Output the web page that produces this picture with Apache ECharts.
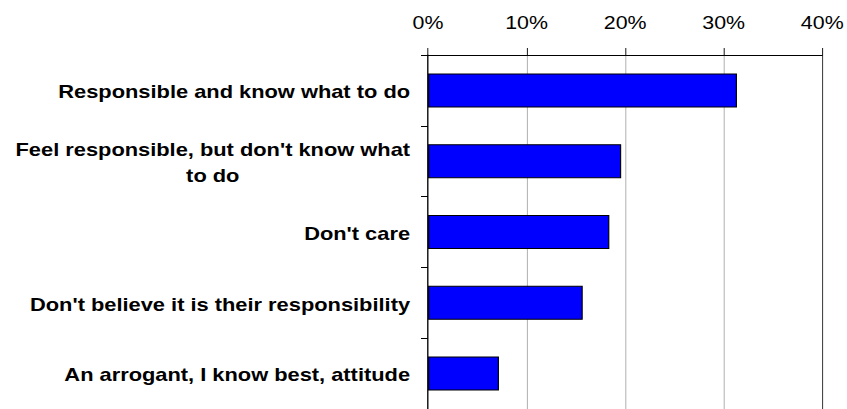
<!DOCTYPE html>
<html>
<head>
<meta charset="utf-8">
<script src="https://cdn.jsdelivr.net/npm/echarts@6/dist/echarts.min.js"></script>
<style>
html,body{margin:0;padding:0;background:#fff;overflow:hidden;}
#chart{width:705.8px;height:409px;transform:scaleX(1.2);transform-origin:0 0;}
</style>
</head>
<body>
<div id="chart"></div>
<script>
const categories = [
  "Responsible and know what to do",
  "Feel responsible, but don't know what\nto do",
  "Don't care",
  "Don't believe it is their responsibility",
  "An arrogant, I know best, attitude"
];
const values = [31.35, 19.6, 18.4, 15.7, 7.2];
const tickMin = 0, tickMax = 40, tickStep = 10;

const SX = 1.2; // horizontal stretch of the reference picture
const chart = echarts.init(document.getElementById('chart'), null, {renderer: 'svg'});
chart.setOption({
  animation: false,
  backgroundColor: '#fff',
  grid: {left: 428 / SX, top: 55, width: 396 / SX, height: 358, containLabel: false},
  xAxis: {
    type: 'value',
    position: 'top',
    min: tickMin, max: tickMax, interval: tickStep,
    axisLine: {show: true, lineStyle: {color: '#000', width: 1}},
    axisTick: {show: true, inside: false, length: 7, lineStyle: {color: '#000', width: 1 / SX}},
    axisLabel: {
      formatter: '{value}%', margin: 23,
      fontFamily: 'Liberation Sans', fontSize: 17.8, color: '#000'
    },
    splitLine: {show: true, lineStyle: {color: ['#000', '#a8a8a8', '#a8a8a8', '#a8a8a8', '#222'], width: 1 / SX}}
  },
  yAxis: {
    type: 'category',
    inverse: true,
    data: categories,
    axisLine: {show: true, lineStyle: {color: '#000', width: 1 / SX}},
    axisTick: {show: true, inside: false, length: 7 / SX, alignWithLabel: false, lineStyle: {color: '#000'}},
    axisLabel: {
      margin: 18 / SX,
      padding: [3, 0, 0, 0],
      formatter: function (v) { return '{c|' + v.split('\n').join('}\n{c|') + '}'; },
      rich: {
        c: {align: 'center', fontFamily: 'Liberation Sans', fontWeight: 'bold', fontSize: 18.2, color: '#000', lineHeight: 26}
      }
    },
    splitLine: {show: false}
  },
  series: [{
    type: 'bar',
    data: values,
    barWidth: 34,
    itemStyle: {color: '#0000ff', borderColor: '#000', borderWidth: 1}
  }]
});
</script>
</body>
</html>
